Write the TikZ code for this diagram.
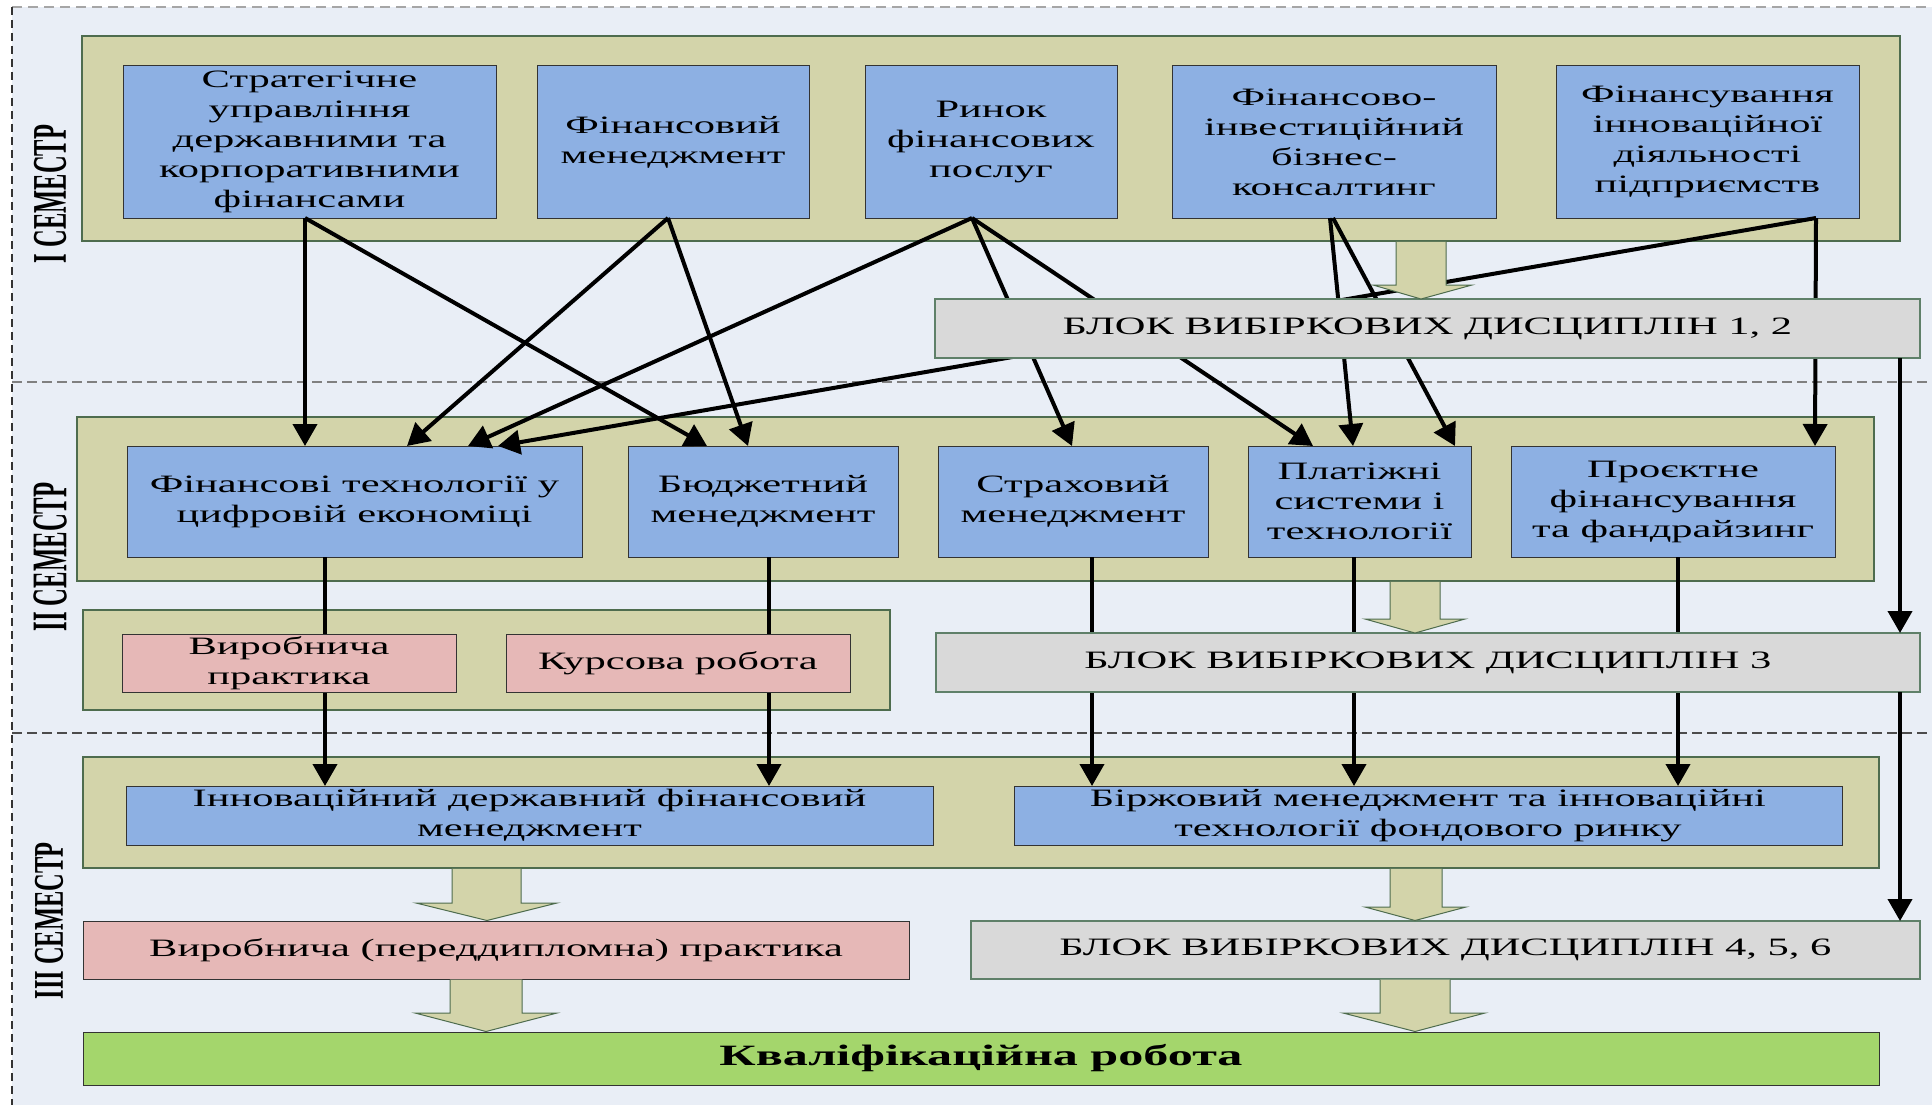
\documentclass[tikz,border=0pt]{standalone}
\usepackage{fontspec}
\setmainfont{Liberation Serif}
\newfontfamily\wf[FakeStretch=1.7]{Liberation Serif}
\usetikzlibrary{arrows.meta}
\definecolor{bgc}{RGB}{233,238,246}
\definecolor{khaki}{RGB}{211,212,170}
\definecolor{kborder}{RGB}{78,108,78}
\definecolor{bluebox}{RGB}{141,176,227}
\definecolor{pinkbox}{RGB}{230,184,183}
\definecolor{graybox}{RGB}{217,217,217}
\definecolor{greenbox}{RGB}{164,214,108}
\definecolor{gborder}{RGB}{95,128,105}
\newcommand\fatarr[8]{%
  \fill[khaki] (#1,#3) -- (#2,#3) -- (#2,#4) -- (#6,#4) -- (#7,#8) -- (#5,#4) -- (#1,#4) -- cycle;
  \draw[kborder,line width=1pt,line join=miter] (#2,#3) -- (#2,#4) -- (#6,#4) -- (#7,#8) -- (#5,#4) -- (#1,#4) -- (#1,#3);}
\begin{document}
\begin{tikzpicture}[x=1pt,y=-1pt,
  cont/.style={draw=kborder,fill=khaki,line width=1.2pt,inner sep=0pt,outer sep=0pt},
  bbox/.style={draw=black!80,fill=bluebox,line width=1pt,inner sep=0pt,outer sep=0pt,align=center,font=\wf\fontsize{25}{30}\selectfont},
  pbox/.style={bbox,fill=pinkbox},
  gbox/.style={draw=gborder,fill=graybox,line width=1.2pt,inner sep=0pt,outer sep=0pt,align=center,font=\wf\fontsize{25}{30}\selectfont},
  qbox/.style={draw=black!80,fill=greenbox,line width=1pt,inner sep=0pt,outer sep=0pt,align=center,font=\wf\bfseries\fontsize{29.5}{34}\selectfont},
  conn/.style={line width=4pt},
  arr/.style={conn,-{Triangle[length=22pt,width=24pt]}},
  semlab/.style={rotate=90,inner sep=0pt}]
\useasboundingbox (0,0) rectangle (1932,1105);
\fill[white] (0,0) rectangle (1932,1105);
\fill[bgc] (12,7) rectangle (1932,1105);
\draw[gray!70,line width=1.5pt,dash pattern=on 10pt off 6pt] (12,7) -- (1932,7);
\draw[black!80,line width=1.2pt,dash pattern=on 8pt off 5pt] (12,7) -- (12,1105);
\draw[gray,line width=1.2pt,dash pattern=on 10pt off 5pt] (12,382) -- (1932,382);
\draw[black!70,line width=1.2pt,dash pattern=on 10pt off 5pt] (12,733) -- (1932,733);

% semester labels
\node[semlab] (s1) at (50,194) {\resizebox{138pt}{32pt}{\bfseries I СЕМЕСТР}};
\node[semlab] (s2) at (50,557) {\resizebox{149pt}{33pt}{\bfseries II СЕМЕСТР}};
\node[semlab] (s3) at (49,921) {\resizebox{157pt}{28pt}{\bfseries III СЕМЕСТР}};

% containers
\node[cont,minimum width=1818pt,minimum height=205pt] (cI) at (991,138.5) {};
\node[cont,minimum width=1797pt,minimum height=164pt] (cII) at (975.5,499) {};
\node[cont,minimum width=807pt,minimum height=100pt] (cIIb) at (486.5,660) {};
\node[cont,minimum width=1796pt,minimum height=111pt] (cIII) at (981,812.5) {};

% row I
\node[bbox,minimum width=373pt,minimum height=152pt] (A1) at (309.5,142) {Стратегічне\\управління\\державними та\\корпоративними\\фінансами};
\node[bbox,minimum width=272pt,minimum height=152pt] (A2) at (673,142) {Фінансовий\\менеджмент};
\node[bbox,minimum width=252pt,minimum height=152pt] (A3) at (991,142) {Ринок\\фінансових\\послуг};
\node[bbox,minimum width=324pt,minimum height=152pt] (A4) at (1334,142) {Фінансово-\\інвестиційний\\бізнес-\\консалтинг};
\node[bbox,minimum width=303pt,minimum height=152pt] (A5) at (1707.5,142) {Фінансування\\інноваційної\\діяльності\\підприємств};

% row II
\node[bbox,minimum width=455pt,minimum height=111pt] (B1) at (354.5,501.5) {Фінансові технології у\\цифровій економіці};
\node[bbox,minimum width=270pt,minimum height=111pt] (B2) at (763,501.5) {Бюджетний\\менеджмент};
\node[bbox,minimum width=270pt,minimum height=111pt] (B3) at (1073,501.5) {Страховий\\менеджмент};
\node[bbox,minimum width=223pt,minimum height=111pt] (B4) at (1359.5,501.5) {Платіжні\\системи і\\технології};
\node[bbox,minimum width=324pt,minimum height=111pt] (B5) at (1673,501.5) {Проєктне\\фінансування\\та фандрайзинг};

% row III
\node[bbox,minimum width=807pt,minimum height=59pt] (C1) at (529.5,815.5) {Інноваційний державний фінансовий\\менеджмент};
\node[bbox,minimum width=828pt,minimum height=59pt] (C2) at (1428,815.5) {Біржовий менеджмент та інноваційні\\технології фондового ринку};

% connectors I -> II
\draw[arr] ([xshift=-4.5pt]A1.south) -- ([xshift=-49.5pt]B1.north);
\draw[arr] ([xshift=-4.5pt]A1.south) -- ([xshift=-56pt]B2.north);
\draw[arr] ([xshift=-5pt]A2.south) -- ([xshift=52.5pt]B1.north);
\draw[arr] ([xshift=-5pt]A2.south) -- ([xshift=-15pt]B2.north);
\draw[arr] ([xshift=-19pt]A3.south) -- ([xshift=113.5pt]B1.north);
\draw[arr] ([xshift=-19pt]A3.south) -- ([xshift=-1pt]B3.north);
\draw[arr] ([xshift=-19pt]A3.south) -- ([xshift=-46.5pt]B4.north);
\draw[arr] ([xshift=-4pt]A4.south) -- ([xshift=-6.5pt]B4.north);
\draw[arr] ([xshift=-1pt]A4.south) -- ([xshift=95.5pt]B4.north);
\draw[arr] ([xshift=108.5pt]A5.south) -- ([xshift=142pt]B5.north);
\draw[arr] ([xshift=108.5pt]A5.south) -- ([xshift=143.5pt]B1.north);

% connectors II -> III
\draw[arr] ([xshift=-29.5pt]B1.south) -- ([xshift=-204.5pt]C1.north);
\draw[arr] ([xshift=6pt]B2.south) -- ([xshift=239.5pt]C1.north);
\draw[arr] ([xshift=19pt]B3.south) -- ([xshift=-336pt]C2.north);
\draw[arr] ([xshift=-5.5pt]B4.south) -- ([xshift=-74pt]C2.north);
\draw[arr] ([xshift=5pt]B5.south) -- ([xshift=250pt]C2.north);

% grey / pink boxes on top of lines
\node[gbox,minimum width=985pt,minimum height=59pt] (bl12) at (1427.5,328.5) {БЛОК ВИБІРКОВИХ ДИСЦИПЛІН 1, 2};
\node[gbox,minimum width=984pt,minimum height=59pt] (bl3) at (1428,662.5) {БЛОК ВИБІРКОВИХ ДИСЦИПЛІН 3};
\node[gbox,minimum width=949pt,minimum height=58pt] (bl456) at (1445.5,950) {БЛОК ВИБІРКОВИХ ДИСЦИПЛІН 4, 5, 6};
\node[pbox,minimum width=334pt,minimum height=58pt] (P1) at (289,663) {Виробнича\\практика};
\node[pbox,minimum width=344pt,minimum height=58pt] (P2) at (678,663) {Курсова робота};
\node[pbox,minimum width=826pt,minimum height=58pt] (P3) at (496,950) {Виробнича (переддипломна) практика};
\node[qbox,minimum width=1796pt,minimum height=53pt] (Q) at (981,1058.5) {Кваліфікаційна робота};

% right long arrows
\draw[arr] ([xshift=472.5pt]bl12.south) -- ([xshift=472pt]bl3.north);
\draw[arr] ([xshift=472pt]bl3.south) -- ([xshift=454.5pt]bl456.north);

% fat arrows
\fatarr{1396}{1446}{241.8}{285}{1373}{1472}{1421}{299}
\fatarr{1390}{1440}{581.8}{619}{1365}{1465}{1415}{633}
\fatarr{452}{521}{868.8}{903}{416}{557}{487}{920.5}
\fatarr{1390}{1442}{868.8}{907}{1365}{1466}{1415}{920.5}
\fatarr{450}{522}{979.5}{1013}{415}{557}{486}{1031.5}
\fatarr{1380}{1450}{979.5}{1013}{1343}{1485}{1415}{1031.5}
\end{tikzpicture}
\end{document}
